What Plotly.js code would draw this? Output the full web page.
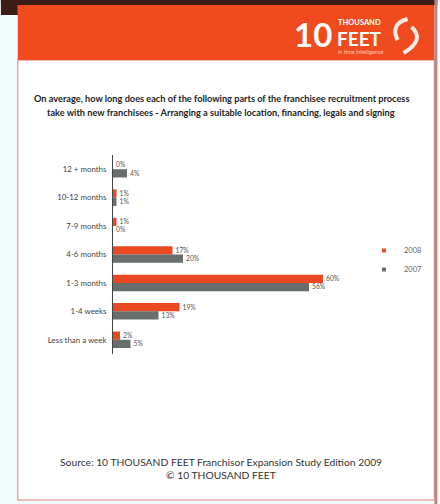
<!DOCTYPE html>
<html><head><meta charset="utf-8">
<script src="https://cdn.plot.ly/plotly-3.0.1.min.js"></script>
<style>html,body{margin:0;padding:0;background:#f1fbfb;}#c{width:440px;height:504px;}</style>
</head><body><div id="c"></div>
<script>
const categories = ["12 + months","10-12 months","7-9 months","4-6 months","1-3 months","1-4 weeks","Less than a week"];
const values2008 = [0,1,1,17,60,19,2];
const values2007 = [4,1,0,20,56,13,5];
const seriesNames = ["2008","2007"];

const W=440,H=504,L=113,R=80,T=155,B=150;
const pw=W-L-R, ph=H-T-B;
const px=x=>(x-L)/pw, py=y=>(H-B-y)/ph;
const FONT="Lato, 'Open Sans', sans-serif";

const orange="#ea4820", gray="#676e6d";
const colors=[orange,gray];
const series=[values2008,values2007];
const traces=[];
series.forEach((vals,i)=>{
 traces.push({type:"bar",orientation:"h",name:seriesNames[i],y:categories,x:vals,marker:{color:colors[i]},
  text:vals.map(v=>v+"%"),textposition:"outside",cliponaxis:false,showlegend:false,
  textfont:{size:7.4,color:"#555",family:FONT},hoverinfo:"x+y"});
});
series.forEach((vals,i)=>{
 traces.push({type:"scatter",mode:"markers",name:seriesNames[i],x:[null],y:[null],
  marker:{symbol:"square",size:4,color:colors[i]},showlegend:true,hoverinfo:"skip"});
});

function rect(x0,y0,x1,y1,fill,line){return {type:"rect",xref:"paper",yref:"paper",layer:"below",
 x0:px(x0),x1:px(x1),y0:py(y0),y1:py(y1),fillcolor:fill,line:line||{width:0}};}

const shapes=[
 rect(17,60,437,500,"#ffffff",{color:"#e9a9a4",width:1.5}),
 rect(17,4,437,60,"#ef4b1f"),
 rect(0,0,440,5,"#3b1c17"),
 rect(0,0,17,15,"#3b1c17"),
 rect(437,0,440,504,"#b9877f"),
 {type:"path",xref:"paper",yref:"paper",layer:"above",
  path:`M ${px(410)} ${py(19)} Q ${px(392)} ${py(24)} ${px(400)} ${py(40)}`,line:{color:"#f5ece6",width:4}},
 {type:"path",xref:"paper",yref:"paper",layer:"above",
  path:`M ${px(414)} ${py(27)} Q ${px(428)} ${py(40)} ${px(406)} ${py(53)}`,line:{color:"#f5ece6",width:4}}
];

function ann(text,x,y,size,color,bold,xa){return {text:bold?"<b>"+text+"</b>":text,xref:"paper",yref:"paper",
 x:px(x),y:py(y),xanchor:xa||"center",yanchor:"middle",showarrow:false,borderpad:0,
 font:{size:size,color:color,family:FONT}};}

const annotations=[
 ann("On average, how long does each of the following parts of the franchisee recruitment process",222,99,9.2,"#222",true),
 ann("take with new franchisees - Arranging a suitable location, financing, legals and signing",222,112,9.2,"#222",true),
 ann("Source: 10 THOUSAND FEET Franchisor Expansion Study Edition 2009",222,462,10.3,"#333",false),
 ann("© 10 THOUSAND FEET",222,475,10.3,"#333",false),
 ann("10",294,34,33,"#ffffff",true,"left"),
 ann("THOUSAND",339,22,7.5,"#ffffff",true,"left"),
 ann("FEET",338,38,19,"#ffffff",true,"left"),
 ann("in time intelligence",339,52,5.5,"#f6c9b8",false,"left")
];

const layout={
 width:W,height:H,margin:{l:L,r:R,t:T,b:B,pad:0},
 paper_bgcolor:"#f1fbfb",plot_bgcolor:"rgba(0,0,0,0)",
 barmode:"group",bargap:0.42,bargroupgap:0,
 showlegend:true,
 legend:{x:px(366),y:py(236),xanchor:"left",yanchor:"top",font:{size:7.5,color:"#666",family:FONT},
  bgcolor:"rgba(0,0,0,0)",itemwidth:30,tracegroupgap:0,itemsizing:"trace"},
 xaxis:{range:[0,70],visible:false,fixedrange:true},
 yaxis:{type:"category",autorange:"reversed",showline:true,linecolor:"#444",linewidth:1,
  ticks:"",showgrid:false,zeroline:false,tickfont:{size:7.9,color:"#444",family:FONT},ticklabelstandoff:4},
 shapes:shapes,annotations:annotations,font:{family:FONT}
};
Plotly.newPlot("c",traces,layout,{displayModeBar:false,staticPlot:true});
</script></body></html>
